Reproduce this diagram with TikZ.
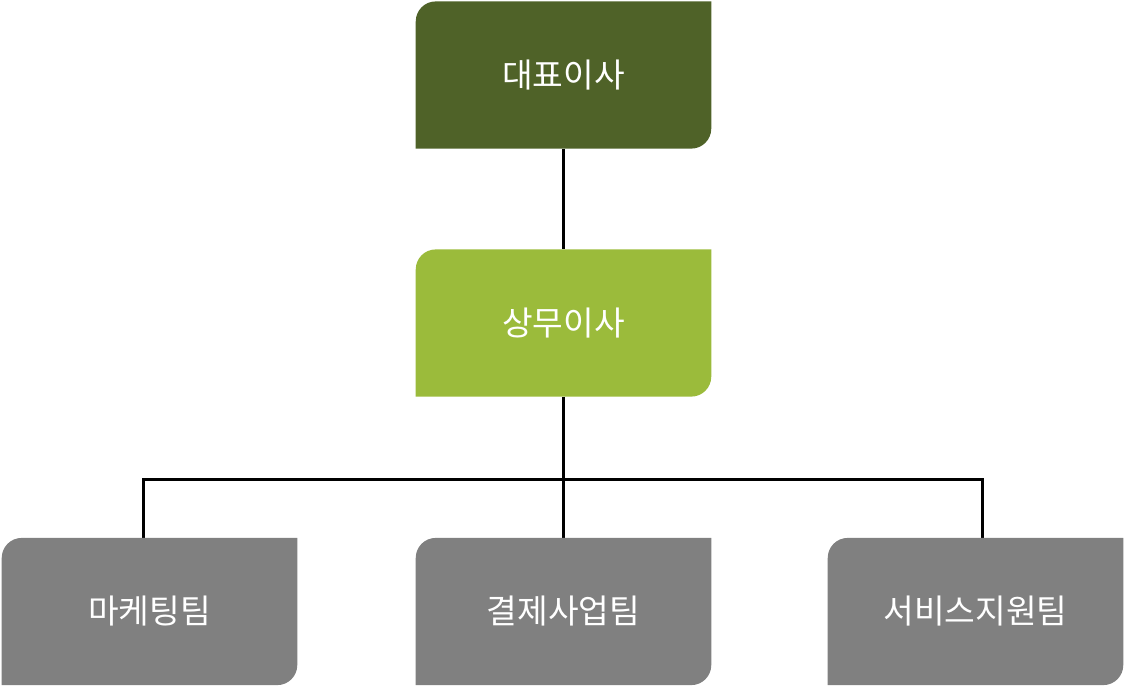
\documentclass[tikz,border=0pt]{standalone}
\usepackage{fontspec}
\setmainfont{Noto Sans CJK KR}
\begin{document}
\begin{tikzpicture}[x=0.75pt,y=-0.75pt]
\definecolor{dk}{HTML}{4F6228}
\definecolor{lt}{HTML}{9BBB3B}
\definecolor{gr}{HTML}{808080}
\tikzset{box/.style={minimum width=221.25pt,minimum height=110pt,inner sep=0pt,text=white,font=\fontsize{25}{30}\selectfont},
 conn/.style={line width=2.25pt}}
\useasboundingbox (0,0) rectangle (1125,687);
\newcommand{\rbox}[2]{\fill[#2] (#1.south west) [rounded corners=15pt] -- (#1.north west) [sharp corners] -- (#1.north east) [rounded corners=15pt] -- (#1.south east) [sharp corners] -- cycle;}
\coordinate (ca) at (563.5,75);
\node[box] (ceo) at (563.5,75) {};
\node[box] (md) at (563.5,323) {};
\node[box] (mk) at (149.5,611.5) {};
\node[box] (pay) at (563.5,611.5) {};
\node[box] (svc) at (975.5,611.5) {};
\coordinate (bus) at (563.5,479);
\coordinate (bl) at (143,479);
\coordinate (br) at (982,479);
\draw[conn] (ceo.south) -- (md.north);
\draw[conn] (md.south) -- (pay.north);
\draw[conn] (mk.north -| bl) -- (bl) -- (br) -- (svc.north -| br);
\rbox{ceo}{dk}\rbox{md}{lt}\rbox{mk}{gr}\rbox{pay}{gr}\rbox{svc}{gr}
\node[box] at (ceo) {대표이사};
\node[box] at (md) {상무이사};
\node[box] at (mk) {마케팅팀};
\node[box] at (pay) {결제사업팀};
\node[box] at (svc) {서비스지원팀};
\end{tikzpicture}
\end{document}
